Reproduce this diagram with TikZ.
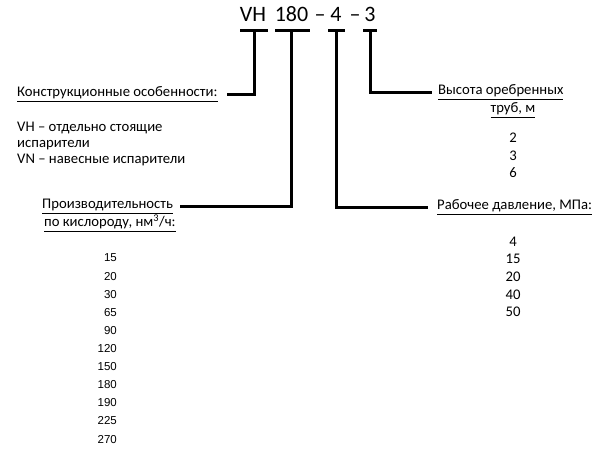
\documentclass[tikz,border=0pt]{standalone}
\usepackage{fontspec}
\setmainfont{Carlito}
\newfontfamily\arialf{Liberation Sans}
\begin{document}
\begin{tikzpicture}[x=1bp,y=-1bp,
  lbl/.style={inner sep=0pt,anchor=base west,font=\fontsize{14.7bp}{16bp}\selectfont},
  num/.style={inner sep=0pt,anchor=base,font=\fontsize{14.7bp}{16bp}\selectfont},
  lnum/.style={inner sep=0pt,anchor=base east,font=\arialf\fontsize{11.5bp}{13bp}\selectfont},
  ttl/.style={inner sep=0pt,anchor=base,font=\fontsize{22bp}{24bp}\selectfont},
  bar/.style={line width=3bp},
  conn/.style={line width=3bp}]
\useasboundingbox[fill=white] (0,0) rectangle (597,452);
% title
\node[ttl] (tvh) at (253,22) {VH};
\node[ttl] (t180) at (291.5,22) {180};
\node[ttl] (td1) at (320,22) {–};
\node[ttl] (t4) at (336,22) {4};
\node[ttl] (td2) at (355,22) {–};
\node[ttl] (t3) at (370,22) {3};
% T bars
\coordinate (b1) at (254,31);
\coordinate (b2) at (291,31);
\coordinate (b3) at (336,31);
\coordinate (b4) at (370,31);
\draw[bar] (240,31) -- (268,31);
\draw[bar] (275,31) -- (310,31);
\draw[bar] (328,31) -- (345,31);
\draw[bar] (363,31) -- (377,31);
% left labels
\node[lbl] (konstr) at (17,97) {\underline{Конструкционные особенности:}};
\node[lbl] (vh1) at (17,132) {VH – отдельно стоящие};
\node[lbl] (vh2) at (17,148) {испарители};
\node[lbl] (vn) at (17,164) {VN – навесные испарители};
\node[lbl] (proiz) at (42,209) {\underline{Производительность}};
\node[lbl] (kisl) at (44,227) {\underline{по кислороду, нм\textsuperscript{3}/ч:}};
\foreach \v [count=\i from 0] in {15,20,30,65,90,120,150,180,190,225,270}
  \node[lnum] (n\i) at (117,{262+18.1*\i}) {\v};
% right labels
\node[lbl] (vys) at (438,95) {\underline{Высота оребренных}};
\node[num] (trub) at (513,113) {\underline{труб, м}};
\node[num] (h2) at (513,142.5) {2};
\node[num] (h3) at (513,160.5) {3};
\node[num] (h6) at (513,177.5) {6};
\node[lbl] (rab) at (437,210) {\underline{Рабочее давление, МПа:}};
\foreach \v [count=\i from 0] in {4,15,20,40,50}
  \node[num] (p\i) at (513,{246.5+17.5*\i}) {\v};
% connectors
\draw[conn] (b1) |- ([xshift=9bp]konstr.mid east);
\draw[conn] (b2) |- ([xshift=7bp]proiz.mid east);
\draw[conn] (b3) |- ([xshift=-9bp]rab.mid west);
\draw[conn] (b4) |- ([xshift=-6bp]vys.mid west);
\end{tikzpicture}
\end{document}
